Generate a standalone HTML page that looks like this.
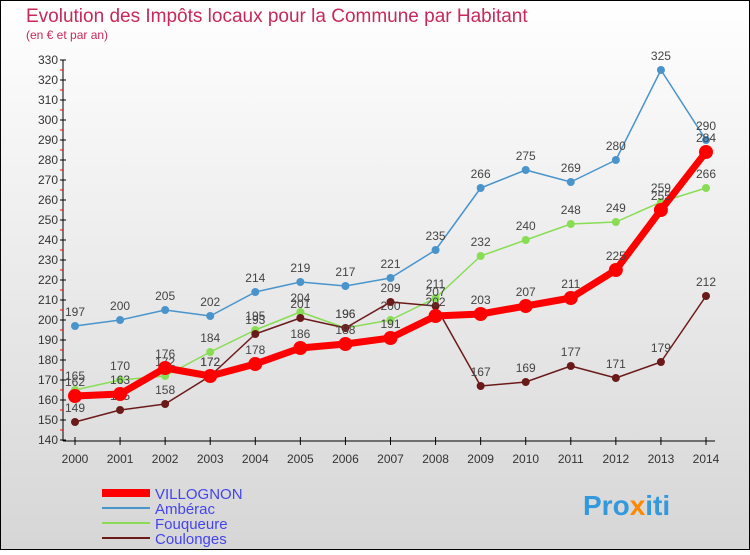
<!DOCTYPE html>
<html><head><meta charset="utf-8"><style>
body{margin:0}
#c{width:750px;height:550px;position:relative;font-family:"Liberation Sans",sans-serif}
</style></head><body>
<div id="c">
<svg id="s" width="750" height="550" xmlns="http://www.w3.org/2000/svg">
<defs><linearGradient id="bg" x1="0" y1="0" x2="0" y2="1"><stop offset="0" stop-color="#ffffff"/><stop offset="1" stop-color="#d6d6d6"/></linearGradient></defs>
<rect x="0.5" y="0.5" width="749" height="549" fill="url(#bg)" stroke="#000"/>
<text x="26" y="22" font-size="19" fill="#c8285a">Evolution des Impôts locaux pour la Commune par Habitant</text>
<text x="26" y="39" font-size="12" fill="#c8285a">(en € et par an)</text>
<g id="axes"></g><g id="series"></g>
<g>
<line x1="102" y1="493" x2="150" y2="493" stroke="#f00" stroke-width="8"/>
<text x="155" y="499" font-size="15" fill="#4444ee">VILLOGNON</text>
<line x1="102" y1="508" x2="150" y2="508" stroke="#4a94cc" stroke-width="2"/>
<text x="155" y="514" font-size="15" fill="#4444ee">Ambérac</text>
<line x1="102" y1="523" x2="150" y2="523" stroke="#88dd55" stroke-width="2"/>
<text x="155" y="529" font-size="15" fill="#4444ee">Fouqueure</text>
<line x1="102" y1="538" x2="150" y2="538" stroke="#6b1a1a" stroke-width="2"/>
<text x="155" y="544" font-size="15" fill="#4444ee">Coulonges</text>
</g>
<text x="583" y="515" font-size="28" font-weight="bold" fill="#3399dd">Pro<tspan fill="#ff8800">x</tspan><tspan fill="#3399dd">iti</tspan></text>
</svg></div>
<script>
const years=[2000,2001,2002,2003,2004,2005,2006,2007,2008,2009,2010,2011,2012,2013,2014];
const villognon=[162,163,176,172,178,186,188,191,202,203,207,211,225,255,284];
const amberac=[197,200,205,202,214,219,217,221,235,266,275,269,280,325,290];
const fouqueure=[165,170,172,184,195,204,196,200,211,232,240,248,249,259,266];
const coulonges=[149,155,158,172,193,201,196,209,207,167,169,177,171,179,212];
const yTicks=[140,150,160,170,180,190,200,210,220,230,240,250,260,270,280,290,300,310,320,330];
const NS="http://www.w3.org/2000/svg";
const X=i=>75+i*(706-75)/(years.length-1);
const Y=v=>60+(330-v)*2;
function mk(t,a,p){const e=document.createElementNS(NS,t);for(const k in a)e.setAttribute(k,a[k]);p.appendChild(e);return e;}
const ax=document.getElementById('axes');
const ya=mk('line',{x1:63,y1:60,x2:63,y2:441,stroke:'#000'},ax);


const xa=mk('line',{x1:63,y1:441,x2:715,y2:441,stroke:'#000'},ax);


yTicks.forEach(v=>{
 mk('line',{x1:60,y1:Y(v),x2:66,y2:Y(v),stroke:'#000'},ax);
 if(v<330) mk('line',{x1:60,y1:Y(v)-10,x2:63,y2:Y(v)-10,stroke:'#f00'},ax);
 const t=mk('text',{x:58,y:Y(v)+4,'font-size':12,'text-anchor':'end',fill:'#333'},ax);t.textContent=v;
 
 
});
years.forEach((y,i)=>{
 mk('line',{x1:X(i),y1:437,x2:X(i),y2:445,stroke:'#000'},ax);
 const t=mk('text',{x:X(i),y:463,'font-size':12,'text-anchor':'middle',fill:'#333'},ax);t.textContent=y;
 
 
});
const sg=document.getElementById('series');
function series(d,col,w,r,name){
 const g=mk('g',{},sg);
 
 
 const l=mk('polyline',{points:d.map((v,i)=>X(i)+','+Y(v)).join(' '),fill:'none',stroke:col,'stroke-width':w,'stroke-linejoin':'round'},g);
 
 
 d.forEach((v,i)=>{
  const c=mk('circle',{cx:X(i),cy:Y(v),r:r,fill:col},g);
  
  
  const t=mk('text',{x:X(i),y:Y(v)-10,'font-size':12,'text-anchor':'middle',fill:'#444'},g);t.textContent=v;
  
  
 });
}
series(amberac,'#4a94cc',1.5,4,'amberac');
series(fouqueure,'#88dd55',1.5,4,'fouqueure');
series(coulonges,'#6b1a1a',1.5,4,'coulonges');
series(villognon,'#ff0000',7,7,'villognon');
</script>
</body></html>
